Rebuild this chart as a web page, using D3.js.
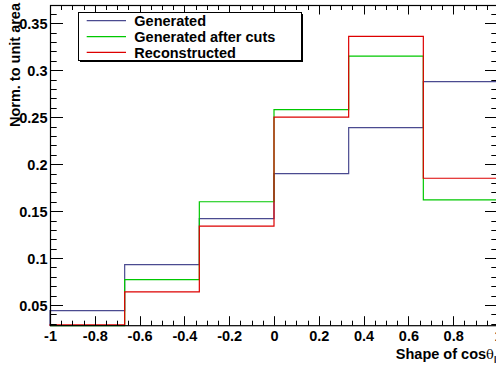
<!DOCTYPE html>
<html><head><meta charset="utf-8">
<script src="https://cdn.jsdelivr.net/npm/d3@7"></script>
<style>
html,body{margin:0;padding:0;background:#fff;}
svg{display:block;}
text{font-family:"Liberation Sans",Arial,Helvetica,sans-serif;font-weight:bold;fill:#000;}
</style></head>
<body>
<script>
// ---- data ----
const binEdges = [-1, -2/3, -1/3, 0, 1/3, 2/3, 1];
const generated = [0.044, 0.093, 0.142, 0.190, 0.239, 0.288];
const generatedAfterCuts = [0.028, 0.077, 0.160, 0.258, 0.315, 0.162];
const reconstructed = [0.029, 0.064, 0.134, 0.250, 0.336, 0.185];
const seriesNames = ["Generated", "Generated after cuts", "Reconstructed"];
const seriesColors = ["#4a4a90", "#00c800", "#dd0000"];
const xTickValues = [-1, -0.8, -0.6, -0.4, -0.2, 0, 0.2, 0.4, 0.6, 0.8, 1];
const xTickLabels = ["-1", "-0.8", "-0.6", "-0.4", "-0.2", "0", "0.2", "0.4", "0.6", "0.8", "1"];
const yTickValues = [0.05, 0.1, 0.15, 0.2, 0.25, 0.3, 0.35];
const yTickLabels = ["0.05", "0.1", "0.15", "0.2", "0.25", "0.3", "0.35"];
const yTitle = "Norm. to unit area";

// ---- layout ----
const W = 496, H = 367;
const L = 50, R = 498, T = 5, B = 325.7;
const svg = d3.select("body").append("svg").attr("width", W).attr("height", H);

const x = d3.scaleLinear().domain([-1, 1]).range([L, R]);
const y = d3.scaleLinear().domain([0.028, 0.3695]).range([B, T]);

const xMinor = d3.range(-1, 1.0001, 0.05);
const yMinor = d3.range(0.03, 0.3695, 0.01);

// histograms
const allSeries = [generated, generatedAfterCuts, reconstructed];
const clampY = v => Math.max(T, Math.min(B, y(v)));
allSeries.forEach((vals, i) => {
  let p = d3.path();
  p.moveTo(x(binEdges[0]), B);
  vals.forEach((v, k) => {
    p.lineTo(x(binEdges[k]), clampY(v));
    p.lineTo(x(binEdges[k + 1]), clampY(v));
  });
  p.lineTo(x(binEdges[binEdges.length - 1]), B);
  svg.append("path").attr("d", p.toString())
    .attr("fill", "none").attr("stroke", seriesColors[i]).attr("stroke-width", 1.2);
});

// axes via d3
const bottomAxis = d3.axisBottom(x).tickValues(xTickValues).tickSize(0).tickPadding(0)
  .tickFormat((d, i) => xTickLabels[i]);
const gB = svg.append("g").attr("transform", `translate(0,${B})`).call(bottomAxis);
gB.select(".domain").remove();
gB.selectAll("text").attr("font-size", 14.5).attr("dy", null).attr("y", 15)
  .style("font-family", '"Liberation Sans",Arial,sans-serif').style("font-weight", "bold");

const leftAxis = d3.axisLeft(y).tickValues(yTickValues).tickSize(0).tickPadding(0)
  .tickFormat((d, i) => yTickLabels[i]);
const gL = svg.append("g").attr("transform", `translate(${L},0)`).call(leftAxis);
gL.select(".domain").remove();
gL.selectAll("text").attr("font-size", 14.5).attr("x", -2.5).attr("dy", "0.36em")
  .style("font-family", '"Liberation Sans",Arial,sans-serif').style("font-weight", "bold");

// ticks
const tk = svg.append("g").attr("stroke", "#000").attr("stroke-width", 1);
xMinor.forEach(v => {
  const isMaj = xTickValues.some(m => Math.abs(m - v) < 1e-6);
  const len = isMaj ? 9.5 : 5;
  const xx = Math.round(x(v)) + 0.5;
  tk.append("line").attr("x1", xx).attr("x2", xx).attr("y1", B).attr("y2", B - len);
  tk.append("line").attr("x1", xx).attr("x2", xx).attr("y1", T).attr("y2", T + len);
});
yMinor.forEach(v => {
  const isMaj = yTickValues.some(m => Math.abs(m - v) < 1e-6);
  const len = isMaj ? 13 : 6.7;
  const yy = Math.round(y(v)) + 0.5;
  tk.append("line").attr("x1", L).attr("x2", L + len).attr("y1", yy).attr("y2", yy);
  tk.append("line").attr("x1", R).attr("x2", R - len).attr("y1", yy).attr("y2", yy);
});

// frame
svg.append("rect").attr("x", L + 0.5).attr("y", T + 0.5).attr("width", R - L - 0.5).attr("height", B - T - 0.5)
  .attr("fill", "none").attr("stroke", "#000").attr("stroke-width", 1.2);

// legend
const lg = svg.append("g");
lg.append("rect").attr("x", 80).attr("y", 14).attr("width", 223).attr("height", 48).attr("fill", "#000");
lg.append("rect").attr("x", 78.5).attr("y", 12.5).attr("width", 223).attr("height", 48)
  .attr("fill", "#fff").attr("stroke", "#000").attr("stroke-width", 1);
const legY = [20.7, 36.6, 52.3];
seriesNames.forEach((n, i) => {
  lg.append("line").attr("x1", 86.7).attr("x2", 126).attr("y1", legY[i]).attr("y2", legY[i])
    .attr("stroke", seriesColors[i]).attr("stroke-width", 1.2);
  lg.append("text").attr("x", 134.3).attr("y", legY[i] + 5.3).attr("font-size", 14.5).text(n);
});

// axis titles
const xt = svg.append("text").attr("x", 501).attr("y", 358.5).attr("text-anchor", "end").attr("font-size", 14.5);
xt.append("tspan").text("Shape of cos");
xt.append("tspan").text("θ").style("font-weight", "normal").style("font-family", '"DejaVu Serif",serif').attr("font-size", 13);
xt.append("tspan").text("l,j").attr("font-size", 8.5).attr("dy", 4);

svg.append("text").attr("transform", "translate(19.5,3) rotate(-90)").attr("text-anchor", "end")
  .attr("font-size", 14.5).text(yTitle);
</script>
</body></html>
